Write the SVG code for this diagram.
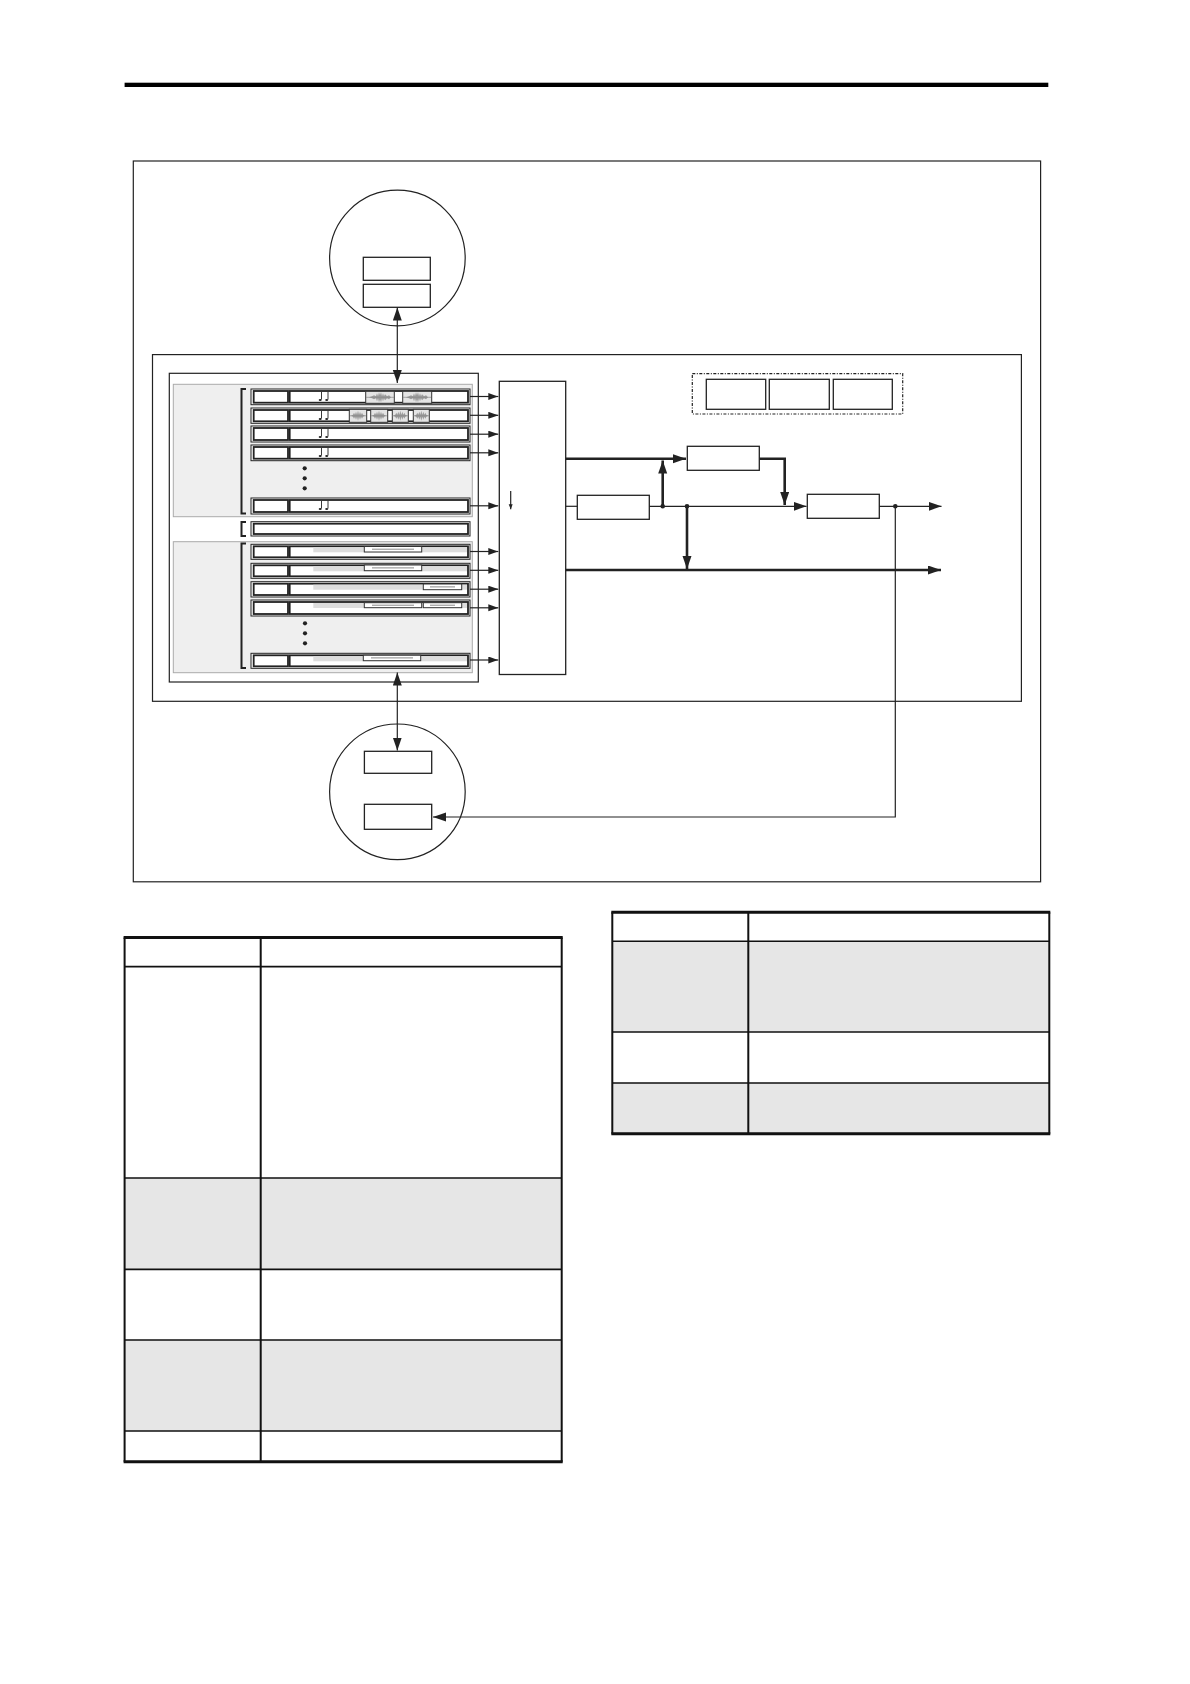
<svg xmlns="http://www.w3.org/2000/svg" xmlns:xlink="http://www.w3.org/1999/xlink" width="1190" height="1684" viewBox="0 0 1190 1684">
<style>
.ln{fill:none;stroke:#222;stroke-width:1.2}
.thk{fill:none;stroke:#222;stroke-width:2.6}
.box{fill:#fff;stroke:#222;stroke-width:1.3}
.panel{fill:#efefef;stroke:#aaa;stroke-width:1}
.trk{fill:#fff;stroke:#222;stroke-width:1}
.trkin{fill:#fff;stroke:#222;stroke-width:1.8}
.wv{fill:#fff;stroke:#333;stroke-width:1}
.wvb{fill:#e4e4e4;stroke:#333;stroke-width:1}
.wvg{fill:#9a9a9a;stroke:none}
.band{fill:#ddd;stroke:none}
.dot{fill:#222}
.tbl{fill:none;stroke:#111;stroke-width:2}
.tblh{fill:none;stroke:#111;stroke-width:3}
.row{stroke:#111;stroke-width:1.6}
.gray{fill:#e6e6e6}
</style>
<defs>
<marker id="a" markerUnits="userSpaceOnUse" markerWidth="10" markerHeight="8" refX="10" refY="3.5" orient="auto-start-reverse"><path d="M0,0 L10,3.5 L0,7 z" fill="#222"/></marker>
<marker id="b" markerUnits="userSpaceOnUse" markerWidth="14" markerHeight="10" refX="13" refY="4.5" orient="auto-start-reverse"><path d="M0,0 L13,4.5 L0,9 z" fill="#222"/></marker>
<marker id="s" markerUnits="userSpaceOnUse" markerWidth="6" markerHeight="6" refX="5" refY="2" orient="auto"><path d="M0,0 L5,2 L0,4 z" fill="#222"/></marker>
<g id="notes">
<path d="M321.5,3 V10.5 M328,3 V10.5" stroke="#222" stroke-width="0.9" fill="none"/>
<ellipse cx="320.2" cy="11" rx="1.5" ry="1" fill="#222"/>
<ellipse cx="326.7" cy="11" rx="1.5" ry="1" fill="#222"/>
</g>
<g id="wave">
<path d="M0,0 L2,-1 L3,-3 L4,-1 L5,-4 L6,-1 L7,-5 L8,-1 L9,-4 L10,-1 L11,-3 L12,-1 L14,0 L12,1 L11,3 L10,1 L9,4 L8,1 L7,5 L6,1 L5,4 L4,1 L3,3 L2,1 z" class="wvg"/>
<path d="M-1,0 H15" stroke="#888" stroke-width="0.7"/>
</g>
<g id="wave-wide">
<path d="M0,0 L3,-1 L5,-2 L7,-1 L8,-4 L9,-1 L10,-5 L11,-2 L12,-5 L13,-1 L14,-4 L15,-1 L16,-3 L18,-1 L20,-2 L22,0 L20,2 L18,1 L16,3 L15,1 L14,4 L13,1 L12,5 L11,2 L10,5 L9,1 L8,4 L7,1 L5,2 L3,1 z" class="wvg"/>
<path d="M-3,0 H25" stroke="#888" stroke-width="0.7"/>
</g>
</defs>

<rect id="top-rule" x="124.6" y="82.7" width="923.7" height="4.3" fill="#000"/>

<g id="outer-frame"><rect x="133.3" y="161" width="907.3" height="720.8" class="ln" stroke="#333"/></g>
<g id="system-frame"><rect x="152.5" y="354.6" width="868.9" height="346.7" class="ln"/></g>

<g id="top-circle">
<circle cx="397.4" cy="258" r="67.8" class="ln" stroke-width="1.6"/>
<rect x="363.3" y="257.3" width="67" height="23" class="box"/>
<rect x="363.3" y="284.3" width="67" height="23" class="box"/>
</g>

<g id="bottom-circle">
<circle cx="397.4" cy="791.8" r="67.8" class="ln" stroke-width="1.6"/>
<rect x="364.4" y="751.3" width="67.3" height="22" class="box"/>
<rect x="364.4" y="804.3" width="67.3" height="25" class="box"/>
</g>

<g id="track-area">
<rect x="169.3" y="373.3" width="309" height="308.7" fill="#fff" stroke="#222" stroke-width="1.2"/>
<rect x="173.3" y="384.3" width="299" height="132.4" class="panel"/>
<rect x="173.3" y="541.7" width="299" height="131" class="panel"/>
<path d="M246,389 H241.5 V513.5 H246" fill="none" stroke="#222" stroke-width="2"/>
<path d="M246,522 H241.5 V536 H246" fill="none" stroke="#222" stroke-width="2"/>
<path d="M246,543.5 H241.5 V668 H246" fill="none" stroke="#222" stroke-width="2"/>
</g>

<g id="tracks-upper">
<g id="track-u1">
<rect x="251" y="389" width="219" height="15.7" class="trk"/>
<rect x="253.7" y="391" width="34.3" height="11.7" class="trkin"/>
<rect x="289.7" y="391" width="178.3" height="11.7" class="trkin"/>
<use href="#notes" y="389"/>
<rect x="365.7" y="391.3" width="28.6" height="12" class="wvb"/><use href="#wave-wide" x="369" y="397.3"/>
<rect x="402.7" y="391.3" width="29" height="12" class="wvb"/><use href="#wave-wide" x="406" y="397.3"/>
</g>
<g id="track-u2">
<rect x="251" y="408" width="219" height="15.3" class="trk"/>
<rect x="253.7" y="410" width="34.3" height="11.3" class="trkin"/>
<rect x="289.7" y="410" width="178.3" height="11.3" class="trkin"/>
<use href="#notes" y="408"/>
<rect x="349.3" y="409.3" width="17.4" height="13" class="wvb"/><use href="#wave" x="351" y="415.8"/>
<rect x="370.7" y="409.3" width="17" height="13" class="wvb"/><use href="#wave" x="372" y="415.8"/>
<rect x="392.3" y="409.3" width="16" height="13" class="wvb"/><use href="#wave" x="393.3" y="415.8"/>
<rect x="413.3" y="409.3" width="16" height="13" class="wvb"/><use href="#wave" x="414.3" y="415.8"/>
</g>
<g id="track-u3">
<rect x="251" y="426" width="219" height="16" class="trk"/>
<rect x="253.7" y="428" width="34.3" height="12" class="trkin"/>
<rect x="289.7" y="428" width="178.3" height="12" class="trkin"/>
<use href="#notes" y="426"/>
</g>
<g id="track-u4">
<rect x="251" y="445" width="219" height="15.7" class="trk"/>
<rect x="253.7" y="447" width="34.3" height="11.7" class="trkin"/>
<rect x="289.7" y="447" width="178.3" height="11.7" class="trkin"/>
<use href="#notes" y="445"/>
</g>
<circle cx="304.7" cy="468.3" r="2.1" class="dot"/>
<circle cx="304.7" cy="478.3" r="2.1" class="dot"/>
<circle cx="304.7" cy="488.3" r="2.1" class="dot"/>
<g id="track-u5">
<rect x="251" y="498" width="219" height="16" class="trk"/>
<rect x="253.7" y="500" width="34.3" height="12" class="trkin"/>
<rect x="289.7" y="500" width="178.3" height="12" class="trkin"/>
<use href="#notes" y="498"/>
</g>
</g>

<g id="track-mid">
<rect x="251" y="521.7" width="219" height="14.3" class="trk"/>
<rect x="253.7" y="523.7" width="214.3" height="10.3" class="trkin"/>
</g>

<g id="tracks-lower">
<g id="track-l1">
<rect x="251" y="544.3" width="219" height="15" class="trk"/>
<rect x="253.7" y="546.3" width="34.3" height="11" class="trkin"/>
<rect x="289.7" y="546.3" width="178.3" height="11" class="trkin"/>
<rect x="313.3" y="547.3" width="153.7" height="5" class="band"/>
<rect x="364.3" y="546.5" width="57.4" height="5.5" class="wv"/><path d="M372,549.2 H414" stroke="#888" stroke-width="1"/>
</g>
<g id="track-l2">
<rect x="251" y="563.3" width="219" height="15" class="trk"/>
<rect x="253.7" y="565.3" width="34.3" height="11" class="trkin"/>
<rect x="289.7" y="565.3" width="178.3" height="11" class="trkin"/>
<rect x="313.3" y="566.3" width="153.7" height="5" class="band"/>
<rect x="364.3" y="565" width="57.4" height="5.7" class="wv"/><path d="M372,567.9 H414" stroke="#888" stroke-width="1"/>
</g>
<g id="track-l3">
<rect x="251" y="581.7" width="219" height="15.3" class="trk"/>
<rect x="253.7" y="583.7" width="34.3" height="11.3" class="trkin"/>
<rect x="289.7" y="583.7" width="178.3" height="11.3" class="trkin"/>
<rect x="313.3" y="584.7" width="153.7" height="5" class="band"/>
<rect x="423.3" y="584" width="38.4" height="5.7" class="wv"/><path d="M430,586.9 H455" stroke="#888" stroke-width="1"/>
</g>
<g id="track-l4">
<rect x="251" y="600" width="219" height="16" class="trk"/>
<rect x="253.7" y="602" width="34.3" height="12" class="trkin"/>
<rect x="289.7" y="602" width="178.3" height="12" class="trkin"/>
<rect x="313.3" y="603" width="153.7" height="5" class="band"/>
<rect x="364.3" y="602.7" width="57.4" height="5" class="wv"/><path d="M372,605.2 H414" stroke="#888" stroke-width="1"/>
<rect x="423.3" y="602.7" width="38.4" height="5" class="wv"/><path d="M430,605.2 H455" stroke="#888" stroke-width="1"/>
</g>
<circle cx="305" cy="623.3" r="2.1" class="dot"/>
<circle cx="305" cy="633.3" r="2.1" class="dot"/>
<circle cx="305" cy="643.3" r="2.1" class="dot"/>
<g id="track-l5">
<rect x="251" y="653.3" width="219" height="15" class="trk"/>
<rect x="253.7" y="655.3" width="34.3" height="11" class="trkin"/>
<rect x="289.7" y="655.3" width="178.3" height="11" class="trkin"/>
<rect x="313.3" y="656.3" width="153.7" height="5" class="band"/>
<rect x="363.3" y="655.2" width="57.4" height="5.5" class="wv"/><path d="M371,657.9 H413" stroke="#888" stroke-width="1"/>
</g>
</g>

<g id="mixer">
<rect x="499.3" y="381.3" width="66.4" height="293.2" class="box" stroke-width="1.2"/>
</g>

<g id="effect-group">
<rect x="692.3" y="373.7" width="210.4" height="40.3" fill="none" stroke="#222" stroke-width="1.2" stroke-dasharray="3,1.5,1,1.5"/>
<rect id="fx-1" x="706.3" y="379.3" width="59.4" height="30" class="box"/>
<rect id="fx-2" x="769.3" y="379.3" width="60" height="30" class="box"/>
<rect id="fx-3" x="833.3" y="379.3" width="59" height="30" class="box"/>
</g>

<g id="box-a"><rect x="687.3" y="446.3" width="72" height="24" class="box"/></g>
<g id="box-b"><rect x="577.3" y="495.3" width="72" height="24" class="box"/></g>
<g id="box-c"><rect x="807.3" y="494.3" width="72" height="24" class="box"/></g>

<g id="connectors">
<path d="M470,396.5 H498.3" class="ln" marker-end="url(#a)"/>
<path d="M470,415.3 H498.3" class="ln" marker-end="url(#a)"/>
<path d="M470,434.2 H498.3" class="ln" marker-end="url(#a)"/>
<path d="M470,452.8 H498.3" class="ln" stroke-width="2.2" marker-end="url(#a)"/>
<path d="M470,505.8 H498.3" class="ln" marker-end="url(#a)"/>
<path d="M470,551.5 H498.3" class="ln" marker-end="url(#a)"/>
<path d="M470,570.3 H498.3" class="ln" marker-end="url(#a)"/>
<path d="M470,589.2 H498.3" class="ln" marker-end="url(#a)"/>
<path d="M470,607.8 H498.3" class="ln" stroke-width="2.2" marker-end="url(#a)"/>
<path d="M470,660 H498.3" class="ln" marker-end="url(#a)"/>
<path d="M510.7,491 V509.3" class="ln" stroke-width="0.9" marker-end="url(#s)"/>
<path d="M397.3,307.5 V383" class="ln" marker-start="url(#b)" marker-end="url(#b)"/>
<path d="M397.3,672.5 V750.5" class="ln" marker-start="url(#b)" marker-end="url(#b)"/>
<path d="M565.7,458.7 H686" class="thk" marker-end="url(#b)"/>
<path d="M759.3,458.7 H784.7 V505" class="thk" marker-end="url(#b)"/>
<path d="M565.7,506.3 H577.3" class="ln"/>
<path d="M649.3,506.3 H806.5" class="ln" marker-end="url(#b)"/>
<path d="M879.3,506.3 H941.5" class="ln" marker-end="url(#b)"/>
<path d="M662.7,506.3 V460.5" class="thk" marker-end="url(#b)"/>
<path d="M687,506.3 V569" class="thk" marker-end="url(#b)"/>
<path d="M565.7,570 H941" class="thk" marker-end="url(#b)"/>
<path d="M895.3,506.3 V817 H433" class="ln" marker-end="url(#b)"/>
<circle cx="662.7" cy="506.3" r="2.3" class="dot"/>
<circle cx="687" cy="506.3" r="2.3" class="dot"/>
<circle cx="895.3" cy="506.3" r="2.3" class="dot"/>
</g>

<g id="table-left">
<rect x="124.6" y="1178" width="437.1" height="91.4" class="gray"/>
<rect x="124.6" y="1340" width="437.1" height="91" class="gray"/>
<path d="M124.6,966.6 H561.7 M124.6,1178 H561.7 M124.6,1269.4 H561.7 M124.6,1340 H561.7 M124.6,1431 H561.7" class="row"/>
<path d="M124.6,937.6 V1461.7 M260.7,937.6 V1461.7 M561.7,937.6 V1461.7" class="tbl"/>
<path d="M123.6,937.6 H562.7 M123.6,1461.7 H562.7" class="tblh"/>
</g>

<g id="table-right">
<rect x="612.3" y="941.3" width="437" height="90.7" class="gray"/>
<rect x="612.3" y="1083" width="437" height="50.7" class="gray"/>
<path d="M612.3,941.3 H1049.3 M612.3,1032 H1049.3 M612.3,1083 H1049.3" class="row"/>
<path d="M612.3,912.3 V1133.7 M748.3,912.3 V1133.7 M1049.3,912.3 V1133.7" class="tbl"/>
<path d="M611.3,912.3 H1050.3 M611.3,1133.7 H1050.3" class="tblh"/>
</g>
</svg>
